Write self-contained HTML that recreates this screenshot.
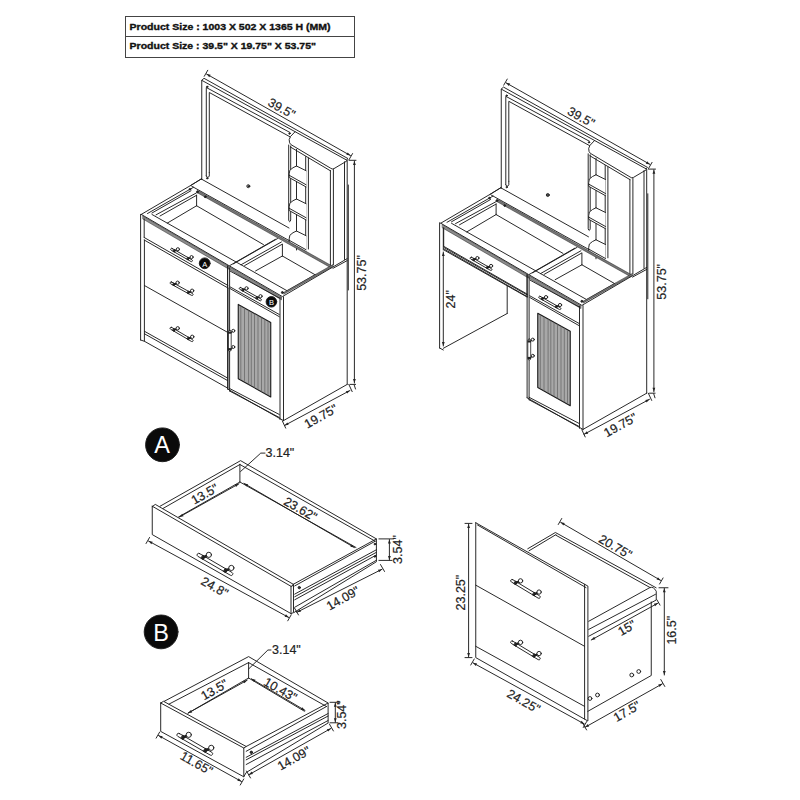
<!DOCTYPE html>
<html><head><meta charset="utf-8">
<style>
html,body{margin:0;padding:0;background:#fff;width:800px;height:800px;overflow:hidden;}
svg{position:absolute;left:0;top:0;}
svg text{font-family:"Liberation Sans",sans-serif;stroke:#222;stroke-width:0.2px;}
.tbl{position:absolute;left:125px;top:16px;width:228px;height:40px;border:1px solid #444;font-family:"Liberation Sans",sans-serif;font-weight:bold;font-size:10.5px;color:#111;}
.tbl div{position:absolute;left:4px;height:20px;line-height:20px;white-space:nowrap;-webkit-text-stroke:0.3px #111;}
.tbl .r1{top:0;}
.tbl .r2{top:19px;}
.tbl .sep{position:absolute;left:0;right:0;top:19.4px;height:0;border-top:1px solid #444;}
</style></head>
<body>
<svg width="800" height="800" viewBox="0 0 800 800">
<g fill="none" stroke="#1e1e1e" stroke-width="0.95" stroke-linejoin="round" stroke-linecap="round">
<g id="common">
<path d="M201.75,179.50 L201.75,80.30 L346.50,160.00" />
<path d="M201.75,80.30 L204.00,78.30 L348.00,158.60 L346.50,160.00" />
<path d="M206.30,176.00 L206.30,87.50 L290.00,132.50" />
<path d="M209.30,172.50 L209.30,92.50 L290.00,136.80" />
<path d="M206.3,176 Q207.8,179 209.3,176 L209.3,172.5"/>
<circle cx="207.20" cy="86.80" r="0.70" fill="#222"/>
<circle cx="207.20" cy="178.30" r="0.70" fill="#222"/>
<circle cx="289.50" cy="133.60" r="0.70" fill="#222"/>
<circle cx="248.30" cy="186.20" r="1.50" fill="none"/>
<circle cx="248.30" cy="186.20" r="0.50" fill="#222"/>
<path d="M201.30,179.00 L289.00,228.00" />
<path d="M190.50,185.60 L201.30,179.00" />
<path d="M295,131.8 L290.5,136.5 Q288.3,139.5 289.6,142.8 L290.8,144.5 L330.6,168.2 Q332.2,169.6 334,168.6 L346.5,161.2"/>
<path d="M290.40,147.00 L330.40,170.80" />
<path d="M330.40,170.50 L330.40,266.50" />
<path d="M333.40,169.50 L333.40,264.80" />
<path d="M344.50,161.80 L344.50,259.50" />
<path d="M347.20,160.30 L347.20,384.40" />
<path d="M348.30,185.00 L348.30,290.00" />
<path d="M288.7,145 L288.7,220 Q289.7,223.5 290.7,220 L290.7,146"/>
<path d="M305.70,156.60 L305.70,249.00" />
<path d="M308.40,158.00 L308.40,249.00" />
<path d="M296.50,149.40 L296.50,166.00" />
<path d="M296.5,166.00 L293,167.70 Q288.6,169.80 289.2,173.80 L289.2,177.50 L306,186.90 L306,170.70 Z" fill="#fff" stroke="none"/>
<path d="M296.5,166.00 L293,167.70 Q288.6,169.80 289.2,173.80 L289.2,177.50 L306,186.90"/>
<path d="M289.20,175.30 L306.00,184.70" />
<path d="M296.50,166.00 L306.00,170.70" />
<path d="M296.50,181.80 L296.50,199.00" />
<path d="M296.5,199.00 L293,200.70 Q288.6,202.80 289.2,206.80 L289.2,210.50 L306,219.90 L306,203.70 Z" fill="#fff" stroke="none"/>
<path d="M296.5,199.00 L293,200.70 Q288.6,202.80 289.2,206.80 L289.2,210.50 L306,219.90"/>
<path d="M289.20,208.30 L306.00,217.70" />
<path d="M296.50,199.00 L306.00,203.70" />
<path d="M296.50,214.80 L296.50,231.00" />
<path d="M296.5,231.00 L293,232.70 Q288.6,234.80 289.2,238.80 L289.2,242.50 L306,251.90 L306,235.70 Z" fill="#fff" stroke="none"/>
<path d="M296.5,231.00 L293,232.70 Q288.6,234.80 289.2,238.80 L289.2,242.50 L306,251.90"/>
<path d="M289.20,240.30 L306.00,249.70" />
<path d="M296.50,231.00 L306.00,235.70" />
<path d="M296.50,246.80 L296.50,250.00" />
<path d="M206.50,74.00 L350.50,155.60" />
<path d="M206.50,74.00 L210.67,74.75 L209.29,77.19 Z" fill="#222" stroke="none"/>
<path d="M350.50,155.60 L346.33,154.85 L347.71,152.41 Z" fill="#222" stroke="none"/>
<path d="M207.75,70.27 L204.25,76.33" />
<path d="M352.55,153.57 L349.05,159.63" />
<text x="281.50" y="108.60" font-size="12.5" text-anchor="middle" dominant-baseline="central" font-weight="normal" fill="#222" transform="rotate(29.3 281.50 108.60)" >39.5&quot;</text>
<path d="M349.00,160.30 L356.00,160.30" />
<path d="M354.40,161.00 L354.40,383.00" />
<path d="M354.40,161.00 L355.80,165.00 L353.00,165.00 Z" fill="#222" stroke="none"/>
<path d="M354.40,383.00 L353.00,379.00 L355.80,379.00 Z" fill="#222" stroke="none"/>
<path d="M350.00,384.40 L355.60,384.40" />
<path d="M354.20,385.00 L355.50,389.00" />
<text x="362.00" y="273.00" font-size="12.5" text-anchor="middle" dominant-baseline="central" font-weight="normal" fill="#222" transform="rotate(-90 362.00 273.00)" >53.75&quot;</text>
<path d="M141.25,214.40 L190.60,185.50 L201.50,178.75" />
<path d="M147.50,213.50 L193.50,187.30" />
<path d="M152.00,213.00 L191.00,190.75" />
<path d="M156.00,214.85 L196.25,193.00" />
<path d="M160.00,216.00 L196.60,195.25" />
<path d="M167.30,223.10 L196.60,205.75" />
<path d="M196.60,195.25 L196.60,205.75" />
<path d="M196.60,205.75 L263.50,244.60" />
<path d="M191.75,186.25 L289.00,240.50" />
<path d="M197.75,190.50 L331.25,265.50 L331.25,268.00 L197.75,193.00 Z" fill="#777" stroke-width="0.5"/>
<circle cx="189.90" cy="189.25" r="0.80" fill="#222"/>
<circle cx="197.40" cy="191.90" r="0.90" fill="#222"/>
<circle cx="205.25" cy="196.75" r="0.90" fill="#222"/>
<path d="M141.25,214.40 L228.90,265.60 L282.40,296.60 L347.20,258.60" />
<path d="M143.00,216.10 L228.90,266.20 L228.90,269.20 L143.00,219.10 Z" fill="#8c8c8c" stroke-width="0.5"/>
<path d="M229.90,267.00 L281.50,297.00 L281.50,299.80 L229.90,269.80 Z" fill="#8c8c8c" stroke-width="0.5"/>
<path d="M152.00,214.50 L287.50,291.00" />
<path d="M144.20,219.00 L144.20,237.50" />
<path d="M144.20,237.50 L228.00,285.50" />
<path d="M144.20,240.00 L228.00,288.00" />
<path d="M172.15,248.48 L192.01,259.86 A0.98,0.98 0 0 1 191.04,261.56 L171.17,250.18 A0.98,0.98 0 0 1 172.15,248.48 Z" fill="#fff"/>
<path d="M174.40,250.90 L177.89,249.26" stroke-width="1.60"/>
<circle cx="177.89" cy="249.26" r="1.58" fill="#fff"/>
<path d="M174.34,249.62 L175.53,250.31 L174.46,252.18 L173.27,251.49 Z" fill="#222"/>
<path d="M188.10,258.75 L191.59,257.11" stroke-width="1.60"/>
<circle cx="191.59" cy="257.11" r="1.58" fill="#fff"/>
<path d="M188.04,257.47 L189.23,258.16 L188.16,260.03 L186.97,259.34 Z" fill="#222"/>
<path d="M227.60,266.00 L227.60,288.00" />
<path d="M229.75,265.60 L275.25,239.40" />
<path d="M233.25,263.90 L277.50,238.60" />
<path d="M241.10,264.75 L281.40,242.00" />
<path d="M244.60,265.60 L282.25,244.20" />
<path d="M255.60,270.90 L282.40,256.00" />
<path d="M282.40,244.40 L282.40,256.00" />
<path d="M282.40,256.00 L315.50,275.00" />
<path d="M315.40,274.60 L287.50,290.60" />
<path d="M284.00,292.20 L332.90,264.60 L332.90,266.50 L284.00,294.10 Z" fill="#777" stroke-width="0.5"/>
<path d="M333.00,268.30 L347.20,260.60" />
<circle cx="282.40" cy="292.50" r="1.00" fill="#333"/>
<path d="M227.60,266.00 L227.60,389.00" />
<path d="M229.60,268.00 L229.60,391.00" />
<path d="M283.50,296.80 L283.50,420.60" />
<path d="M280.00,297.50 L280.00,419.50" />
<path d="M230.30,271.20 L279.30,297.90" />
<path d="M230.30,287.00 L279.30,314.50" />
<path d="M230.30,288.70 L279.30,316.70" />
<path d="M240.69,287.55 L260.99,299.01 A1.00,1.00 0 0 1 260.01,300.74 L239.71,289.29 A1.00,1.00 0 0 1 240.69,287.55 Z" fill="#fff"/>
<path d="M243.00,290.00 L246.54,288.31" stroke-width="1.61"/>
<circle cx="246.54" cy="288.31" r="1.61" fill="#fff"/>
<path d="M242.93,288.70 L244.15,289.39 L243.07,291.30 L241.85,290.61 Z" fill="#222"/>
<path d="M257.00,297.90 L260.54,296.21" stroke-width="1.61"/>
<circle cx="260.54" cy="296.21" r="1.61" fill="#fff"/>
<path d="M256.93,296.60 L258.15,297.29 L257.07,299.20 L255.85,298.51 Z" fill="#222"/>
<path d="M238.25,304.4 L270.75,322.5 L270.75,396.9 L238.25,378.75 Z" fill="#a8a8a8" stroke="#1a1a1a" stroke-width="1.1"/>
<path d="M240.80,306.42 L240.80,379.57" stroke="#666" stroke-width="0.75"/>
<path d="M244.50,308.48 L244.50,381.64" stroke="#666" stroke-width="0.75"/>
<path d="M248.60,310.76 L248.60,383.93" stroke="#666" stroke-width="0.75"/>
<path d="M251.30,312.27 L251.30,385.44" stroke="#666" stroke-width="0.75"/>
<path d="M254.50,314.05 L254.50,387.22" stroke="#666" stroke-width="0.75"/>
<path d="M258.00,316.00 L258.00,389.18" stroke="#666" stroke-width="0.75"/>
<path d="M261.50,317.95 L261.50,391.13" stroke="#666" stroke-width="0.75"/>
<path d="M264.80,319.79 L264.80,392.98" stroke="#666" stroke-width="0.75"/>
<path d="M268.00,321.57 L268.00,394.76" stroke="#666" stroke-width="0.75"/>
<path d="M229.60,388.50 L279.30,414.50" />
<path d="M229.60,391.00 L279.30,417.50" />
<path d="M227.60,389.00 L283.50,420.60" />
<path d="M283.50,420.60 L347.20,384.40" />
<rect x="228.3" y="330.3" width="2.9" height="20.8" rx="1.4" fill="#fff" stroke-width="0.8"/>
<rect x="228.1" y="331.50" width="3.3" height="2.2" fill="#222" stroke="none"/>
<circle cx="233.30" cy="330.80" r="1.50" fill="#fff"/>
<path d="M231.20,332.60 L232.20,331.80" />
<rect x="228.1" y="348.10" width="3.3" height="2.2" fill="#222" stroke="none"/>
<circle cx="233.30" cy="347.00" r="1.50" fill="#fff"/>
<path d="M231.20,349.20 L232.20,348.00" />
<path d="M284.50,425.50 L350.00,390.50" />
<path d="M284.50,425.50 L287.37,422.38 L288.69,424.85 Z" fill="#222" stroke="none"/>
<path d="M350.00,390.50 L347.13,393.62 L345.81,391.15 Z" fill="#222" stroke="none"/>
<path d="M282.31,420.87 L285.69,428.13" />
<path d="M348.81,384.37 L352.19,391.63" />
<text x="321.00" y="416.50" font-size="12.5" text-anchor="middle" dominant-baseline="central" font-weight="normal" fill="#222" transform="rotate(-29 321.00 416.50)" >19.75&quot;</text>
</g>
<use href="#common" transform="translate(299.5,8.8)"/>
<path d="M140.60,214.40 L140.60,340.00" />
<path d="M144.40,240.00 L144.40,341.25" />
<path d="M144.40,285.50 L227.00,332.00" />
<path d="M144.40,331.25 L227.50,378.00" />
<path d="M144.40,333.75 L227.50,380.50" />
<path d="M140.60,340.00 L144.40,341.25 L227.50,388.00" />
<path d="M171.60,282.00 L192.62,293.60 A1.03,1.03 0 0 1 191.63,295.40 L170.60,283.80 A1.03,1.03 0 0 1 171.60,282.00 Z" fill="#fff"/>
<path d="M174.00,284.50 L177.63,282.72" stroke-width="1.66"/>
<circle cx="177.63" cy="282.72" r="1.66" fill="#fff"/>
<path d="M173.92,283.16 L175.17,283.86 L174.08,285.84 L172.83,285.14 Z" fill="#222"/>
<path d="M188.50,292.50 L192.13,290.72" stroke-width="1.66"/>
<circle cx="192.13" cy="290.72" r="1.66" fill="#fff"/>
<path d="M188.42,291.16 L189.67,291.86 L188.58,293.84 L187.33,293.14 Z" fill="#222"/>
<circle cx="204.70" cy="263.30" r="5.40" fill="#0a0a0a"/>
<text x="204.70" y="266.90" font-size="7.5" text-anchor="middle" dominant-baseline="auto" font-weight="normal" fill="#fff" style="stroke:none">A</text>
<circle cx="271.40" cy="301.80" r="5.30" fill="#0a0a0a"/>
<text x="271.40" y="305.30" font-size="7.5" text-anchor="middle" dominant-baseline="auto" font-weight="normal" fill="#fff" style="stroke:none">B</text>
<path d="M171.63,327.40 L192.65,339.73 A1.04,1.04 0 0 1 191.60,341.52 L170.57,329.20 A1.04,1.04 0 0 1 171.63,327.40 Z" fill="#fff"/>
<path d="M174.00,330.00 L177.73,328.29" stroke-width="1.68"/>
<circle cx="177.73" cy="328.29" r="1.68" fill="#fff"/>
<path d="M173.95,328.64 L175.21,329.38 L174.05,331.36 L172.79,330.62 Z" fill="#222"/>
<path d="M188.50,338.50 L192.23,336.79" stroke-width="1.68"/>
<circle cx="192.23" cy="336.79" r="1.68" fill="#fff"/>
<path d="M188.45,337.14 L189.71,337.88 L188.55,339.86 L187.29,339.12 Z" fill="#222"/>
<path d="M228.00,288.00 L228.00,389.00" />
<path d="M439.60,222.75 L439.60,348.00" />
<path d="M443.30,228.00 L443.30,250.00" />
<path d="M439.60,348.00 L443.30,350.00" />
<path d="M444.00,247.50 L527.00,294.80" />
<path d="M444.00,250.00 L527.00,297.00" />
<path d="M507.20,286.30 L507.20,313.50" />
<path d="M507.20,313.50 L443.30,348.30" />
<path d="M443.30,252.00 L443.30,346.00" />
<path d="M443.30,252.00 L444.70,256.00 L441.90,256.00 Z" fill="#222" stroke="none"/>
<path d="M443.30,346.00 L441.90,342.00 L444.70,342.00 Z" fill="#222" stroke="none"/>
<text x="450.50" y="299.25" font-size="12.5" text-anchor="middle" dominant-baseline="central" font-weight="normal" fill="#222" transform="rotate(-90 450.50 299.25)" >24&quot;</text>
<circle cx="162.50" cy="444.80" r="16.90" fill="#0a0a0a"/>
<text x="162.20" y="453.40" font-size="23.5" text-anchor="middle" dominant-baseline="auto" font-weight="normal" fill="#fff" style="stroke:none">A</text>
<path d="M152.25,506.20 L152.25,534.60 L291.00,613.60 L291.00,586.30" />
<path d="M152.25,506.2 L291,586.3 Q292.5,587 293.3,584.3"/>
<path d="M152.25,506.6 L155.3,504.4 L293.3,584.3"/>
<path d="M291.00,613.60 L293.50,612.60 L293.50,585.00" />
<path d="M160.00,506.25 L240.60,460.65 L376.40,538.90" />
<path d="M163.10,508.40 L239.90,464.50" />
<path d="M239.90,464.50 L375.20,541.20" />
<path d="M239.90,464.50 L239.90,482.00" />
<path d="M239.90,482.00 L178.50,517.00" />
<path d="M239.90,482.00 L356.00,547.50" />
<path d="M293.30,584.30 L376.40,538.90 L376.40,561.75 L294.00,612.50" />
<path d="M294.75,585.90 L375.20,541.20" />
<path d="M294.75,594.10 L376.40,549.75" />
<path d="M294.75,596.75 L376.40,552.30" />
<path d="M294.75,599.75 L376.40,555.00" />
<path d="M294.75,607.25 L376.40,560.25" />
<circle cx="299.30" cy="587.60" r="1.20" fill="#333"/>
<circle cx="374.90" cy="544.10" r="0.80" fill="#222"/>
<circle cx="374.90" cy="556.50" r="0.80" fill="#222"/>
<path d="M199.41,553.49 L232.04,572.48 A1.61,1.61 0 0 1 230.41,575.27 L197.79,556.27 A1.61,1.61 0 0 1 199.41,553.49 Z" fill="#fff"/>
<path d="M203.10,557.50 L208.87,554.83" stroke-width="2.60"/>
<circle cx="208.87" cy="554.83" r="2.60" fill="#fff"/>
<path d="M203.02,555.40 L204.97,556.53 L203.18,559.60 L201.23,558.47 Z" fill="#222"/>
<path d="M225.60,570.60 L231.37,567.93" stroke-width="2.60"/>
<circle cx="231.37" cy="567.93" r="2.60" fill="#fff"/>
<path d="M225.52,568.50 L227.47,569.63 L225.68,572.70 L223.73,571.57 Z" fill="#222"/>
<path d="M179.40,517.00 L238.90,483.80" />
<path d="M179.40,517.00 L182.21,513.83 L183.58,516.27 Z" fill="#222" stroke="none"/>
<path d="M238.90,483.80 L236.09,486.97 L234.72,484.53 Z" fill="#222" stroke="none"/>
<text x="204.80" y="494.30" font-size="12.5" text-anchor="middle" dominant-baseline="central" font-weight="normal" fill="#222" transform="rotate(-29.5 204.80 494.30)" >13.5&quot;</text>
<path d="M244.00,483.40 L354.50,547.60" />
<path d="M244.00,483.40 L248.16,484.20 L246.76,486.62 Z" fill="#222" stroke="none"/>
<path d="M354.50,547.60 L350.34,546.80 L351.74,544.38 Z" fill="#222" stroke="none"/>
<text x="300.30" y="509.30" font-size="12.5" text-anchor="middle" dominant-baseline="central" font-weight="normal" fill="#222" transform="rotate(29.8 300.30 509.30)" >23.62&quot;</text>
<path d="M240.60,471.50 L260.75,453.10 L265.00,453.10" />
<text x="265.50" y="453.10" font-size="12.5" text-anchor="start" dominant-baseline="central" font-weight="normal" fill="#222" >3.14&quot;</text>
<path d="M148.50,541.00 L288.80,617.50" />
<path d="M148.50,541.00 L152.68,541.69 L151.34,544.14 Z" fill="#222" stroke="none"/>
<path d="M288.80,617.50 L284.62,616.81 L285.96,614.36 Z" fill="#222" stroke="none"/>
<path d="M149.55,537.47 L146.05,543.53" />
<path d="M291.25,614.77 L287.75,620.83" />
<text x="214.50" y="587.30" font-size="12.5" text-anchor="middle" dominant-baseline="central" font-weight="normal" fill="#222" transform="rotate(29.5 214.50 587.30)" >24.8&quot;</text>
<path d="M296.80,612.30 L382.10,569.20" />
<path d="M296.80,612.30 L299.74,609.25 L301.00,611.75 Z" fill="#222" stroke="none"/>
<path d="M382.10,569.20 L379.16,572.25 L377.90,569.75 Z" fill="#222" stroke="none"/>
<path d="M294.50,608.04 L298.50,614.96" />
<path d="M380.50,564.54 L384.50,571.46" />
<text x="343.10" y="598.50" font-size="12.5" text-anchor="middle" dominant-baseline="central" font-weight="normal" fill="#222" transform="rotate(-29.5 343.10 598.50)" >14.09&quot;</text>
<path d="M378.90,538.90 L393.50,538.90" />
<path d="M378.90,560.40 L392.00,560.40" />
<path d="M389.40,539.50 L389.40,560.00" />
<path d="M389.40,539.50 L390.80,543.50 L388.00,543.50 Z" fill="#222" stroke="none"/>
<path d="M389.40,560.00 L388.00,556.00 L390.80,556.00 Z" fill="#222" stroke="none"/>
<text x="397.60" y="549.50" font-size="12.5" text-anchor="middle" dominant-baseline="central" font-weight="normal" fill="#222" transform="rotate(-90 397.60 549.50)" >3.54&quot;</text>
<circle cx="161.10" cy="631.90" r="16.90" fill="#0a0a0a"/>
<text x="161.10" y="641.00" font-size="23.5" text-anchor="middle" dominant-baseline="auto" font-weight="normal" fill="#fff" style="stroke:none">B</text>
<path d="M160.70,703.00 L160.70,731.40 L243.80,776.80 L243.80,748.00 L160.70,703.00" />
<path d="M160.70,703.00 L163.50,701.30 L246.20,746.50 L243.80,748.00" />
<path d="M164.25,701.30 L248.60,656.60 L328.10,703.00" />
<path d="M169.00,704.10 L248.60,662.60" />
<path d="M248.60,662.60 L326.50,706.50" />
<path d="M248.60,662.60 L248.60,678.00" />
<path d="M248.60,678.00 L188.10,713.10" />
<path d="M248.60,678.00 L304.40,711.25" />
<path d="M246.20,746.50 L328.10,703.00 L328.10,723.00 L246.20,772.50 L243.80,776.80" />
<path d="M246.20,751.30 L326.50,706.50" />
<path d="M246.20,757.30 L328.10,713.50" />
<path d="M246.20,759.80 L328.10,716.00" />
<path d="M246.20,764.50 L328.10,720.50" />
<circle cx="251.30" cy="752.30" r="1.20" fill="#333"/>
<path d="M179.31,733.50 L211.93,752.36 A1.61,1.61 0 0 1 210.32,755.14 L177.69,736.29 A1.61,1.61 0 0 1 179.31,733.50 Z" fill="#fff"/>
<path d="M183.00,737.50 L188.75,734.82" stroke-width="2.60"/>
<circle cx="188.75" cy="734.82" r="2.60" fill="#fff"/>
<path d="M182.91,735.40 L184.86,736.53 L183.09,739.60 L181.14,738.47 Z" fill="#222"/>
<path d="M205.50,750.50 L211.25,747.82" stroke-width="2.60"/>
<circle cx="211.25" cy="747.82" r="2.60" fill="#fff"/>
<path d="M205.41,748.40 L207.36,749.53 L205.59,752.60 L203.64,751.47 Z" fill="#222"/>
<path d="M188.10,713.10 L247.20,680.20" />
<path d="M188.10,713.10 L190.91,709.93 L192.28,712.38 Z" fill="#222" stroke="none"/>
<path d="M247.20,680.20 L244.39,683.37 L243.02,680.92 Z" fill="#222" stroke="none"/>
<text x="214.50" y="690.00" font-size="12.5" text-anchor="middle" dominant-baseline="central" font-weight="normal" fill="#222" transform="rotate(-29.5 214.50 690.00)" >13.5&quot;</text>
<path d="M251.40,678.80 L305.00,710.40" />
<path d="M251.40,678.80 L255.56,679.63 L254.13,682.04 Z" fill="#222" stroke="none"/>
<path d="M305.00,710.40 L300.84,709.57 L302.27,707.16 Z" fill="#222" stroke="none"/>
<text x="280.30" y="689.90" font-size="12.5" text-anchor="middle" dominant-baseline="central" font-weight="normal" fill="#222" transform="rotate(29.8 280.30 689.90)" >10.43&quot;</text>
<path d="M248.60,669.00 L267.90,650.00 L271.00,650.00" />
<text x="272.00" y="650.00" font-size="12.5" text-anchor="start" dominant-baseline="central" font-weight="normal" fill="#222" >3.14&quot;</text>
<path d="M158.50,735.50 L241.50,781.50" />
<path d="M158.50,735.50 L162.68,736.21 L161.32,738.66 Z" fill="#222" stroke="none"/>
<path d="M241.50,781.50 L237.32,780.79 L238.68,778.34 Z" fill="#222" stroke="none"/>
<path d="M159.65,732.07 L156.15,738.13" />
<path d="M243.75,778.97 L240.25,785.03" />
<text x="196.40" y="763.60" font-size="12.5" text-anchor="middle" dominant-baseline="central" font-weight="normal" fill="#222" transform="rotate(29.5 196.40 763.60)" >11.65&quot;</text>
<path d="M248.80,774.80 L331.00,728.40" />
<path d="M248.80,774.80 L251.60,771.61 L252.97,774.05 Z" fill="#222" stroke="none"/>
<path d="M331.00,728.40 L328.20,731.59 L326.83,729.15 Z" fill="#222" stroke="none"/>
<path d="M246.50,771.04 L250.50,777.96" />
<path d="M329.40,724.04 L333.40,730.96" />
<text x="294.00" y="758.60" font-size="12.5" text-anchor="middle" dominant-baseline="central" font-weight="normal" fill="#222" transform="rotate(-29.5 294.00 758.60)" >14.09&quot;</text>
<path d="M330.00,702.30 L340.00,702.30" />
<path d="M330.00,722.80 L338.00,722.80" />
<path d="M335.30,702.80 L335.30,722.30" />
<path d="M335.30,702.80 L336.70,706.80 L333.90,706.80 Z" fill="#222" stroke="none"/>
<path d="M335.30,722.30 L333.90,718.30 L336.70,718.30 Z" fill="#222" stroke="none"/>
<text x="342.20" y="714.60" font-size="12.5" text-anchor="middle" dominant-baseline="central" font-weight="normal" fill="#222" transform="rotate(-90 342.20 714.60)" >3.54&quot;</text>
<path d="M475.75,522.75 L587.90,586.10 L587.90,721.00 L475.75,657.60 L475.75,522.75" />
<path d="M584.60,584.30 L584.60,719.00" />
<path d="M475.75,585.15 L584.60,646.30" />
<path d="M475.75,646.30 L584.60,706.40" />
<path d="M512.68,579.61 L539.58,595.85 A1.34,1.34 0 0 1 538.19,598.15 L511.30,581.91 A1.34,1.34 0 0 1 512.68,579.61 Z" fill="#fff"/>
<path d="M515.70,583.00 L520.54,580.86" stroke-width="2.17"/>
<circle cx="520.54" cy="580.86" r="2.17" fill="#fff"/>
<path d="M515.66,581.25 L517.27,582.22 L515.74,584.75 L514.13,583.78 Z" fill="#222"/>
<path d="M534.25,594.20 L539.09,592.06" stroke-width="2.17"/>
<circle cx="539.09" cy="592.06" r="2.17" fill="#fff"/>
<path d="M534.21,592.45 L535.82,593.42 L534.29,595.95 L532.68,594.98 Z" fill="#222"/>
<path d="M512.68,641.11 L539.58,657.35 A1.34,1.34 0 0 1 538.19,659.65 L511.30,643.41 A1.34,1.34 0 0 1 512.68,641.11 Z" fill="#fff"/>
<path d="M515.70,644.50 L520.54,642.36" stroke-width="2.17"/>
<circle cx="520.54" cy="642.36" r="2.17" fill="#fff"/>
<path d="M515.66,642.75 L517.27,643.72 L515.74,646.25 L514.13,645.28 Z" fill="#222"/>
<path d="M534.25,655.70 L539.09,653.56" stroke-width="2.17"/>
<circle cx="539.09" cy="653.56" r="2.17" fill="#fff"/>
<path d="M534.21,653.95 L535.82,654.92 L534.29,657.45 L532.68,656.48 Z" fill="#222"/>
<path d="M527.75,548.75 L555.40,532.50 L656.10,587.75" />
<path d="M529.00,550.80 L556.00,534.60" />
<path d="M477.50,525.00 L586.00,587.60" />
<path d="M556.00,535.30 L650.00,587.50" />
<path d="M588.75,621.25 L650,587.5 Q653.5,586.3 656.25,591.25 L656.25,600 L588.75,636.25"/>
<path d="M588.75,629.40 L655.50,594.30" />
<path d="M651.25,601.90 L651.25,675.50 L587.90,711.30" />
<circle cx="631.75" cy="675.00" r="1.90" fill="none"/>
<circle cx="638.75" cy="671.50" r="1.90" fill="none"/>
<circle cx="590.00" cy="698.50" r="1.90" fill="none"/>
<circle cx="597.50" cy="695.00" r="1.90" fill="none"/>
<path d="M465.00,523.40 L472.00,523.40" />
<path d="M465.00,657.60 L472.00,657.60" />
<path d="M468.60,524.00 L468.60,657.00" />
<path d="M468.60,524.00 L470.00,528.00 L467.20,528.00 Z" fill="#222" stroke="none"/>
<path d="M468.60,657.00 L467.20,653.00 L470.00,653.00 Z" fill="#222" stroke="none"/>
<text x="461.10" y="592.60" font-size="12.5" text-anchor="middle" dominant-baseline="central" font-weight="normal" fill="#222" transform="rotate(-90 461.10 592.60)" >23.25&quot;</text>
<path d="M560.60,522.30 L660.70,580.40" />
<path d="M560.60,522.30 L564.76,523.10 L563.36,525.52 Z" fill="#222" stroke="none"/>
<path d="M660.70,580.40 L656.54,579.60 L657.94,577.18 Z" fill="#222" stroke="none"/>
<path d="M561.75,518.47 L558.25,524.53" />
<path d="M663.05,577.97 L659.55,584.03" />
<text x="615.30" y="547.00" font-size="12.5" text-anchor="middle" dominant-baseline="central" font-weight="normal" fill="#222" transform="rotate(29.8 615.30 547.00)" >20.75&quot;</text>
<path d="M659.00,587.75 L668.00,587.75" />
<path d="M664.30,588.30 L664.30,675.00" />
<path d="M664.30,588.30 L665.70,592.30 L662.90,592.30 Z" fill="#222" stroke="none"/>
<path d="M664.30,675.00 L662.90,671.00 L665.70,671.00 Z" fill="#222" stroke="none"/>
<text x="672.40" y="630.20" font-size="12.5" text-anchor="middle" dominant-baseline="central" font-weight="normal" fill="#222" transform="rotate(-90 672.40 630.20)" >16.5&quot;</text>
<path d="M591.25,640.00 L658.00,603.10" />
<path d="M591.25,640.00 L594.07,636.84 L595.43,639.29 Z" fill="#222" stroke="none"/>
<path d="M658.00,603.10 L655.18,606.26 L653.82,603.81 Z" fill="#222" stroke="none"/>
<path d="M657.00,599.90 L660.00,605.10" />
<text x="627.00" y="628.20" font-size="12.5" text-anchor="middle" dominant-baseline="central" font-weight="normal" fill="#222" transform="rotate(-29.5 627.00 628.20)" >15&quot;</text>
<path d="M472.90,662.80 L584.40,724.00" />
<path d="M472.90,662.80 L477.08,663.50 L475.73,665.95 Z" fill="#222" stroke="none"/>
<path d="M584.40,724.00 L580.22,723.30 L581.57,720.85 Z" fill="#222" stroke="none"/>
<path d="M474.25,658.97 L470.75,665.03" />
<path d="M586.75,721.47 L583.25,727.53" />
<text x="523.50" y="701.50" font-size="12.5" text-anchor="middle" dominant-baseline="central" font-weight="normal" fill="#222" transform="rotate(29.5 523.50 701.50)" >24.25&quot;</text>
<path d="M585.00,727.30 L662.40,683.80" />
<path d="M585.00,727.30 L587.80,724.12 L589.17,726.56 Z" fill="#222" stroke="none"/>
<path d="M662.40,683.80 L659.60,686.98 L658.23,684.54 Z" fill="#222" stroke="none"/>
<path d="M582.60,723.04 L586.60,729.96" />
<path d="M660.80,679.54 L664.80,686.46" />
<text x="627.00" y="711.60" font-size="12.5" text-anchor="middle" dominant-baseline="central" font-weight="normal" fill="#222" transform="rotate(-29.5 627.00 711.60)" >17.5&quot;</text>
</g>
</svg>
<div class="tbl"><div class="sep"></div></div>
<svg width="800" height="60" viewBox="0 0 800 60" style="position:absolute;left:0;top:0">
<text x="129.6" y="29.8" font-size="9" font-weight="bold" fill="#111" textLength="201" lengthAdjust="spacingAndGlyphs" style="stroke:#111;stroke-width:0.35px">Product Size : 1003 X 502 X 1365 H (MM)</text>
<text x="129.6" y="48.6" font-size="9" font-weight="bold" fill="#111" textLength="186.4" lengthAdjust="spacingAndGlyphs" style="stroke:#111;stroke-width:0.35px">Product Size : 39.5&quot; X 19.75&quot; X 53.75&quot;</text>
</svg>
</body></html>
